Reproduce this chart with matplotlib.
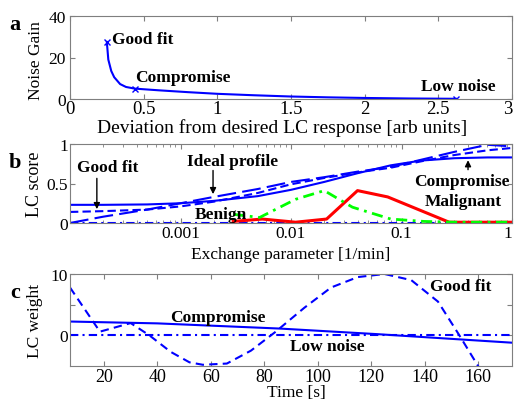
import numpy as np
import matplotlib
matplotlib.use("Agg")
import matplotlib.pyplot as plt
from matplotlib.ticker import NullFormatter, LogLocator, FixedLocator

plt.rcParams['font.family'] = ['Liberation Serif', 'DejaVu Serif']

# ---------------- data ----------------
# Panel a: noise gain vs deviation
a_dev = [0.25, 0.26, 0.28, 0.30, 0.34, 0.38, 0.44, 0.60, 0.80, 1.00, 1.25, 1.50, 1.75, 2.00, 2.30, 2.62]
a_gain = [27.5, 19.0, 13.5, 10.5, 7.2, 5.8, 5.0, 4.2, 3.3, 2.5, 1.8, 1.2, 0.8, 0.5, 0.25, 0.1]
a_mark_dev = [0.25, 0.44, 2.62]
a_mark_gain = [27.5, 5.0, 0.1]
a_xticks = [0, 0.5, 1, 1.5, 2, 2.5, 3]
a_xticklabels = ['0', '0.5', '1', '1.5', '2', '2.5', '3']

# Panel b: LC score vs exchange parameter
b_x = [1e-4, 2e-4, 5e-4, 1e-3, 2e-3, 5e-3, 1e-2, 2e-2, 4e-2, 0.08, 0.15, 0.3, 0.6, 1.0]
b_compromise = [0.23, 0.23, 0.235, 0.25, 0.28, 0.34, 0.42, 0.52, 0.63, 0.73, 0.79, 0.82, 0.83, 0.83]
b_goodfit = [0.14, 0.15, 0.17, 0.21, 0.27, 0.38, 0.49, 0.57, 0.64, 0.70, 0.78, 0.86, 0.92, 0.95]
b_ideal = [0.0, 0.08, 0.17, 0.25, 0.33, 0.43, 0.52, 0.58, 0.65, 0.71, 0.80, 0.90, 0.99, 0.97]
b_lownoise = [0.0] * len(b_x)
benign_x = [0.003, 0.0052, 0.011, 0.02, 0.036, 0.08, 0.16, 0.3, 0.6, 1.0]
benign_y = [0.11, 0.07, 0.30, 0.41, 0.20, 0.05, 0.02, 0.01, 0.01, 0.01]
malig_x = [0.003, 0.0055, 0.011, 0.021, 0.04, 0.075, 0.27, 0.5, 1.0]
malig_y = [0.02, 0.05, 0.01, 0.05, 0.41, 0.33, 0.01, 0.01, 0.01]
b_xticks = [1e-3, 1e-2, 1e-1, 1]
b_xticklabels = ['0.001', '0.01', '0.1', '1']

# Panel c: LC weight vs time
c_t_goodfit = [7.3, 18.5, 30, 37, 45, 52, 57, 66, 75, 84, 95, 105, 115, 125, 135, 145, 153, 160, 163]
c_goodfit = [7.8, 0.6, 2.0, 0.0, -2.7, -4.4, -4.8, -4.6, -2.5, 0.5, 4.5, 7.8, 9.5, 10.0, 9.0, 5.5, 0.0, -5.0, -7.0]
c_t_comp = [7.3, 40, 86, 122, 172.7]
c_comp = [2.25, 1.95, 1.1, 0.2, -1.2]
c_t_low = [7.3, 172.7]
c_low = [0.0, 0.0]
c_xticks = [20, 40, 60, 80, 100, 120, 140, 160]

# ---------------- figure ----------------
W, H = 514, 402
fig = plt.figure(figsize=(W / 100, H / 100), dpi=100)

def ax_px(left, top, right, bottom):
    return fig.add_axes([left / W, 1 - bottom / H, (right - left) / W, (bottom - top) / H])

blue = '#0000ff'
frame_col = '#7f7f7f'
tick_fs = 12.5
lab_fs = 12.5
ann_fs = 12.5

def style(ax):
    for s in ax.spines.values():
        s.set_color(frame_col)
        s.set_linewidth(0.8)
    ax.tick_params(direction='in', top=True, right=True, which='both',
                   color=frame_col, labelsize=tick_fs, pad=1.5, length=3.5)
    ax.tick_params(which='minor', length=2)

def last_label_right(ax):
    labs = ax.get_xticklabels()
    labs[-1].set_horizontalalignment('right')

# Panel a
axa = ax_px(70, 17, 512, 100)
axa.plot(a_dev, a_gain, color=blue, lw=1.5)
axa.plot(a_mark_dev, a_mark_gain, 'x', color=blue, ms=4, mew=1)
axa.set_xlim(0, 3)
axa.set_ylim(0, 40)
axa.set_xticks(a_xticks)
axa.set_xticklabels(a_xticklabels)
axa.set_yticks([0, 20, 40])
style(axa)
axa.tick_params(axis='x', labelsize=13.5, pad=1)
axa.tick_params(axis='y', pad=3)
last_label_right(axa)
axa.set_xlabel('Deviation from desired LC response [arb units]', fontsize=14)
axa.xaxis.set_label_coords(0.48, -0.235)
axa.set_ylabel('Noise Gain', fontsize=lab_fs)
axa.yaxis.set_label_coords(-0.058, 0.47)
axa.text(0.285, 28.9, 'Good fit', fontweight='bold', fontsize=ann_fs, va='center', ha='left')
axa.text(0.44, 10.6, 'Compromise', fontweight='bold', fontsize=ann_fs, va='center', ha='left')
axa.text(2.38, 6.3, 'Low noise', fontweight='bold', fontsize=ann_fs, va='center', ha='left')

# Panel b
axb = ax_px(70, 145, 512, 224)
axb.set_xscale('log')
axb.plot(b_x, b_lownoise, color=blue, lw=1.5, dashes=(4, 2, 1, 2))
axb.plot(b_x, b_compromise, color=blue, lw=1.5)
axb.plot(b_x, b_goodfit, color=blue, lw=1.5, dashes=(4, 2))
axb.plot(b_x, b_ideal, color=blue, lw=1.5, dashes=(9, 3))
axb.plot(malig_x, malig_y, color='#ff0000', lw=2.2)
axb.plot(benign_x, benign_y, color='#00ff00', lw=2.0, dashes=(4, 2, 1, 2))
axb.set_xlim(1e-4, 1)
axb.set_ylim(0, 1)
axb.set_xticks(b_xticks)
axb.set_xticklabels(b_xticklabels)
axb.xaxis.set_minor_locator(LogLocator(base=10, subs=np.arange(2, 10)))
axb.xaxis.set_minor_formatter(NullFormatter())
axb.set_yticks([0, 0.5, 1])
axb.set_yticklabels(['0', '0.5', '1'])
style(axb)
last_label_right(axb)
axb.set_xlabel('Exchange parameter [1/min]', fontsize=lab_fs)
axb.xaxis.set_label_coords(0.5, -0.29)
axb.set_ylabel('LC score', fontsize=13)
axb.yaxis.set_label_coords(-0.062, 0.5)
tb = axb.get_xaxis_transform()
axb.text(0.086, 0.71, 'Good fit', transform=axb.transAxes, fontweight='bold', fontsize=ann_fs, ha='center', va='center')
axb.annotate('', xy=(1.75e-4, 0.14), xytext=(1.75e-4, 0.60), xycoords=tb, textcoords=tb,
             arrowprops=dict(arrowstyle='-|>', color='black', lw=1.0, mutation_scale=9))
axb.text(0.367, 0.785, 'Ideal profile', transform=axb.transAxes, fontweight='bold', fontsize=ann_fs, ha='center', va='center')
axb.annotate('', xy=(1.97e-3, 0.33), xytext=(1.97e-3, 0.70), xycoords=tb, textcoords=tb,
             arrowprops=dict(arrowstyle='-|>', color='black', lw=1.0, mutation_scale=9))
axb.text(0.342, 0.11, 'Benign', transform=axb.transAxes, fontweight='bold', fontsize=ann_fs, ha='center', va='center')
axb.text(0.887, 0.53, 'Compromise', transform=axb.transAxes, fontweight='bold', fontsize=ann_fs, ha='center', va='center')
axb.annotate('', xy=(0.4, 0.83), xytext=(0.4, 0.64), xycoords=tb, textcoords=tb,
             arrowprops=dict(arrowstyle='-|>', color='black', lw=1.0, mutation_scale=9))
axb.text(0.889, 0.28, 'Malignant', transform=axb.transAxes, fontweight='bold', fontsize=ann_fs, ha='center', va='center')

# Panel c
axc = ax_px(70, 275, 512, 367)
axc.plot(c_t_low, c_low, color=blue, lw=1.5, dashes=(4, 2, 1, 2))
axc.plot(c_t_comp, c_comp, color=blue, lw=1.5)
axc.plot(c_t_goodfit, c_goodfit, color=blue, lw=1.5, dashes=(4, 2.5))
axc.set_xlim(7.3, 172.7)
axc.set_ylim(-5, 10)
axc.set_xticks(c_xticks)
axc.yaxis.set_major_locator(FixedLocator([0, 5, 10]))
axc.set_yticklabels(['0', '', '10'])
style(axc)
axc.tick_params(axis='x', labelsize=13)
axc.set_xlabel('Time [s]', fontsize=lab_fs)
axc.xaxis.set_label_coords(0.513, -0.2)
axc.set_ylabel('LC weight', fontsize=lab_fs)
axc.yaxis.set_label_coords(-0.06, 0.5)
axc.text(62.7, 2.95, 'Compromise', fontweight='bold', fontsize=ann_fs, ha='center', va='center')
axc.text(103.5, -1.8, 'Low noise', fontweight='bold', fontsize=ann_fs, ha='center', va='center')
axc.text(153.4, 8.0, 'Good fit', fontweight='bold', fontsize=ann_fs, ha='center', va='center')

# Panel letters
for lbl, py in [('a', 25), ('b', 163), ('c', 293)]:
    fig.text(15 / W, 1 - py / H, lbl, fontweight='bold', fontsize=16, ha='center', va='center')

fig.savefig('out.png', dpi=100)
